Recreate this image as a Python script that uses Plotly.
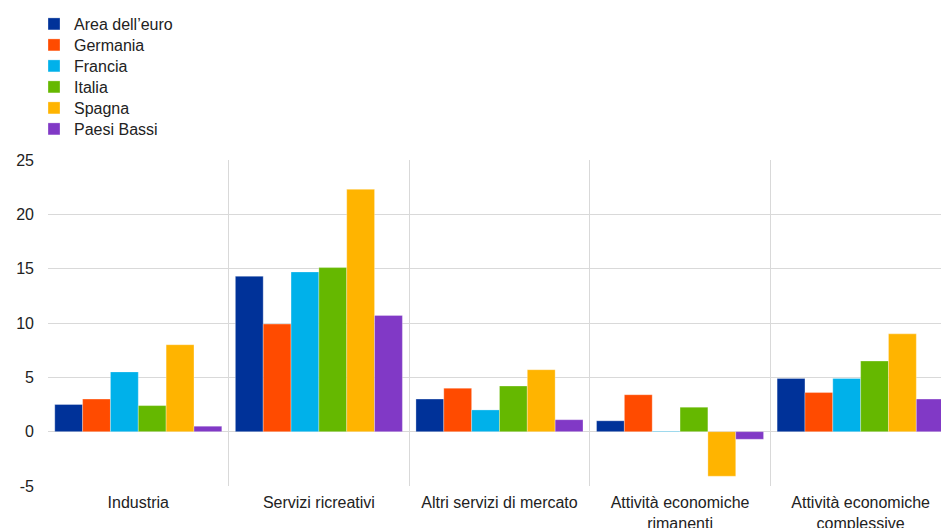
import plotly.graph_objects as go

categories = ["Industria", "Servizi ricreativi", "Altri servizi di mercato",
              "Attività economiche<br>rimanenti", "Attività economiche<br>complessive"]

series_names = ["Area dell’euro", "Germania", "Francia", "Italia", "Spagna", "Paesi Bassi"]
area_euro   = [2.5, 14.3, 3.0, 1.0, 4.9]
germania    = [3.0, 9.9, 4.0, 3.4, 3.6]
francia     = [5.5, 14.7, 2.0, 0.05, 4.9]
italia      = [2.4, 15.1, 4.2, 2.25, 6.5]
spagna      = [8.0, 22.3, 5.7, -4.1, 9.0]
paesi_bassi = [0.5, 10.7, 1.1, -0.7, 3.0]

y_ticks = [-5, 0, 5, 10, 15, 20, 25]

colors = ["#003299", "#ff4b00", "#00b1ea", "#65b800", "#ffb400", "#8139c6"]
values = [area_euro, germania, francia, italia, spagna, paesi_bassi]

W, H = 941, 528
ml, mr, mt, mb = 48, 0, 160, 42
FONT = "Liberation Sans, Arial, sans-serif"

fig = go.Figure()
legend_defs = {}
for i, (name, vals, col) in enumerate(zip(series_names, values, colors)):
    lg = "legend" if i == 0 else f"legend{i+1}"
    fig.add_trace(go.Bar(
        x=categories, y=vals, name=name, legend=lg,
        marker=dict(color=col, line=dict(color="rgba(255,255,255,0.6)", width=0.5)),
    ))
    y_center = 24 + 21 * i
    legend_defs[lg] = dict(
        xref="container", yref="container",
        x=34 / W, xanchor="left",
        y=1 - y_center / H, yanchor="middle",
        font=dict(size=16, family=FONT, color="#222222"),
        bgcolor="rgba(0,0,0,0)", itemclick=False, itemdoubleclick=False,
    )

fig.update_layout(
    width=W, height=H,
    margin=dict(l=ml, r=mr, t=mt, b=mb, pad=0, autoexpand=False),
    barmode="group", bargap=0.075, bargroupgap=0,
    plot_bgcolor="white", paper_bgcolor="white",
    font=dict(family=FONT, size=16, color="#222222"),
    showlegend=True,
    xaxis=dict(
        type="category", range=[-0.5, 4.445], tickson="boundaries",
        showgrid=True, gridcolor="#d9d9d9", gridwidth=1,
        ticks="", showline=False, zeroline=False, automargin=False,
        tickfont=dict(size=16), ticklabelstandoff=5,
    ),
    yaxis=dict(
        range=[-5, 25], tickvals=y_ticks, ticktext=[str(t) for t in y_ticks],
        showgrid=True, gridcolor="#d9d9d9", gridwidth=1,
        zeroline=True, zerolinecolor="#d9d9d9", zerolinewidth=1,
        showline=False, ticks="", tickfont=dict(size=16), automargin=False,
        ticklabelstandoff=13,
    ),
    **legend_defs,
)

fig.write_html(
    "out.html",
    config={"displayModeBar": False},
    post_script="document.body.style.margin='0';document.body.style.overflow='hidden';",
)
